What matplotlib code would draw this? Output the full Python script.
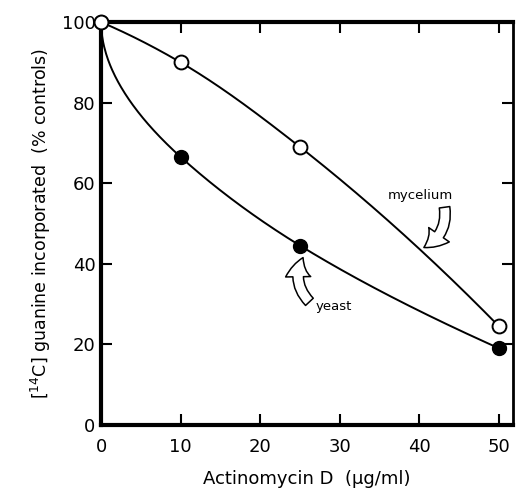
import matplotlib

matplotlib.use("Agg")
import matplotlib.pyplot as plt
import numpy as np
from matplotlib.patches import FancyArrowPatch

# actinomycin D dose (ug/ml) and [14C] guanine incorporation (% of controls)
dose = [0, 10, 25, 50]
mycelium = [100, 90, 69, 24.5]
yeast = [100, 66.5, 44.5, 19]

x_ticks = [0, 10, 20, 30, 40, 50]
y_ticks = [0, 20, 40, 60, 80, 100]


def pchip(xk, yk, xs):
    """Monotone cubic through the measured points (used only to draw the hand-drawn curve)."""
    xk = np.asarray(xk, float)
    yk = np.asarray(yk, float)
    h = np.diff(xk)
    d = np.diff(yk) / h
    m = np.zeros_like(yk)
    for i in range(1, len(xk) - 1):
        if d[i - 1] * d[i] > 0:
            w1 = 2 * h[i] + h[i - 1]
            w2 = h[i] + 2 * h[i - 1]
            m[i] = (w1 + w2) / (w1 / d[i - 1] + w2 / d[i])
    m[0] = ((2 * h[0] + h[1]) * d[0] - h[0] * d[1]) / (h[0] + h[1])
    m[-1] = ((2 * h[-1] + h[-2]) * d[-1] - h[-1] * d[-2]) / (h[-1] + h[-2])
    idx = np.clip(np.searchsorted(xk, xs) - 1, 0, len(h) - 1)
    t = (xs - xk[idx]) / h[idx]
    h00 = 2 * t**3 - 3 * t**2 + 1
    h10 = t**3 - 2 * t**2 + t
    h01 = -2 * t**3 + 3 * t**2
    h11 = t**3 - t**2
    return h00 * yk[idx] + h10 * h[idx] * m[idx] + h01 * yk[idx + 1] + h11 * h[idx] * m[idx + 1]


plt.rcParams["font.family"] = "DejaVu Sans"
fig = plt.figure(figsize=(5.16, 4.92), dpi=100)
ax = fig.add_axes([0.196, 0.137, 0.798, 0.818])

xs = np.linspace(0, 50, 400)
# mycelium curve drawn in linear dose space
ax.plot(xs, pchip(dose, mycelium, xs), color="black", lw=1.4, zorder=2)
# yeast curve falls steeply at first, draw it in sqrt(dose) space
us = np.sqrt(xs)
ax.plot(xs, pchip(np.sqrt(dose), yeast, us), color="black", lw=1.4, zorder=2)

ax.plot(dose, yeast, "o", ms=10, mfc="black", mec="black", clip_on=False, zorder=3)
ax.plot(dose, mycelium, "o", ms=10, mfc="white", mec="black", mew=1.4, clip_on=False, zorder=4)

ax.set_xlim(0, 51.8)
ax.set_ylim(0, 100)
ax.set_xticks(x_ticks)
ax.set_yticks(y_ticks)
ax.tick_params(direction="in", length=8, width=1.5, top=True, right=True, labelsize=13)
ax.tick_params(axis="x", pad=10)
ax.tick_params(axis="y", pad=4)
for side in ["left", "bottom", "top"]:
    ax.spines[side].set_linewidth(3)
ax.spines["right"].set_linewidth(2)

ax.set_xlabel("Actinomycin D  (\u00b5g/ml)", fontsize=13, labelpad=10)
ax.set_ylabel(r"$\left[^{14}\mathrm{C}\right]$ guanine incorporated  (% controls)", fontsize=12.5, labelpad=6)

arrow_style = "simple,head_length=0.75,head_width=0.95,tail_width=0.4"
ax.text(40.2, 57, "mycelium", fontsize=9.5, ha="center", va="center")
ax.add_patch(FancyArrowPatch((43.2, 54.0), (40.6, 44.0), connectionstyle="arc3,rad=-0.35",
                             arrowstyle=arrow_style, mutation_scale=19,
                             fc="white", ec="black", lw=1.1, shrinkA=0, shrinkB=0))
ax.text(29.3, 29.3, "yeast", fontsize=9.5, ha="center", va="center")
ax.add_patch(FancyArrowPatch((26.2, 30.5), (25.4, 41.5), connectionstyle="arc3,rad=-0.35",
                             arrowstyle=arrow_style, mutation_scale=19,
                             fc="white", ec="black", lw=1.1, shrinkA=0, shrinkB=0))

fig.savefig("out.png", dpi=100)
